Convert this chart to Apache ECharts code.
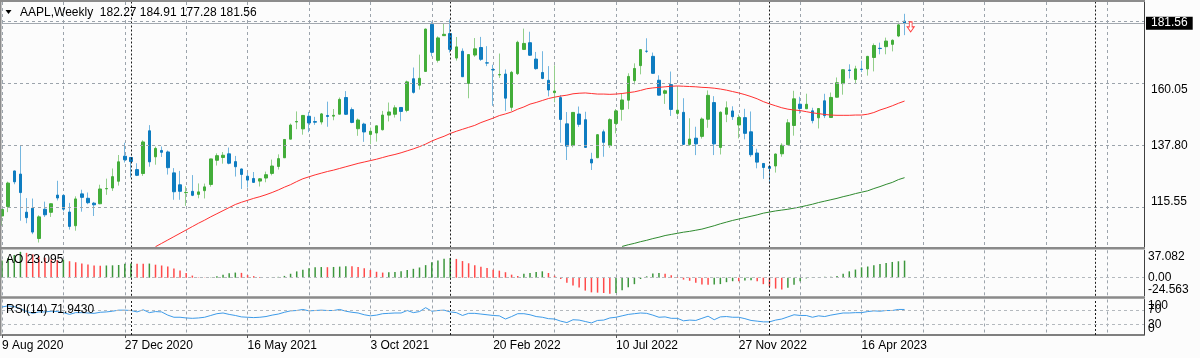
<!DOCTYPE html>
<html>
<head>
<meta charset="utf-8">
<script src="https://cdn.jsdelivr.net/npm/echarts@6/dist/echarts.min.js"></script>
<style>
html,body{margin:0;padding:0;background:#fcfcfc;}
#c{width:1200px;height:358px;}
</style>
</head>
<body>
<div id="c"></div>
<script>
// ---------------- DATA ----------------
const symbolName = 'AAPL,Weekly';
const firstWeek = [2020, 7, 9];   // 9 Aug 2020 (weekly bars, Sunday open)
const weekSlots = 187;            // bars + empty chart shift

const opens = [112.60,115.98,128.70,127.58,113.95,115.36,104.54,115.01,113.91,120.06,
119.96,114.01,109.11,120.50,118.92,117.18,116.97,122.31,122.60,125.02,
133.99,133.52,129.19,127.78,143.07,133.75,136.03,135.49,128.01,123.75,
120.93,121.41,120.33,121.65,123.87,132.52,133.51,134.83,132.04,129.41,
126.82,126.01,125.08,126.17,127.82,130.30,133.41,140.07,146.21,143.75,
148.27,146.36,146.20,148.54,148.31,149.00,154.97,150.63,143.80,145.47,
141.76,142.27,143.45,148.68,148.99,151.41,150.37,161.68,159.37,164.29,
181.12,168.28,177.09,177.83,169.08,171.52,160.02,170.16,172.86,167.37,
164.98,163.06,163.36,151.45,163.51,172.17,174.57,168.71,163.92,161.12,
156.71,154.93,145.55,137.79,149.07,147.03,132.87,133.42,142.70,137.77,
145.67,150.74,154.01,161.01,166.37,171.52,169.69,161.15,156.47,159.59,
149.31,149.66,138.21,140.42,141.07,147.19,153.16,137.11,148.97,150.16,
145.14,147.77,142.70,135.11,131.38,130.28,130.47,134.83,138.12,144.96,
152.58,150.95,150.20,147.71,153.79,147.81,155.07,159.94,164.80,161.42,
165.09,165.19,169.28,172.57,173.16,173.98,176.96,182.27];

const highs = [115.00,124.87,128.79,137.98,118.99,118.83,112.86,117.72,117.00,125.18,
120.42,117.28,119.62,121.99,120.99,117.62,123.78,125.95,129.58,134.41,
138.79,133.61,131.45,139.67,145.09,137.42,137.46,136.01,129.72,128.72,
123.21,127.22,124.24,124.18,133.04,135.00,135.47,137.07,134.07,129.54,
128.00,128.32,126.16,128.46,132.76,134.64,140.00,145.65,150.00,148.72,
149.83,148.05,149.44,153.49,150.86,154.98,157.26,151.42,147.47,145.96,
144.22,144.90,150.18,153.17,152.20,151.57,161.02,165.70,170.30,179.63,
182.13,176.85,181.33,182.88,176.62,172.54,170.35,176.24,176.65,173.34,
166.69,170.70,165.02,164.48,175.28,179.61,178.49,171.27,171.53,166.20,
166.48,155.83,149.77,149.68,151.74,149.87,135.20,141.91,143.49,147.55,
150.86,156.28,163.63,167.19,172.17,176.15,171.05,162.90,157.82,164.26,
158.74,154.72,147.54,144.52,147.85,157.50,155.45,150.01,153.59,151.83,
148.88,150.92,149.97,136.63,131.41,130.90,134.92,138.61,147.23,157.38,
155.23,156.33,151.30,151.11,156.30,156.74,162.14,165.00,166.84,166.32,
168.16,169.85,174.30,174.59,176.39,175.77,181.78,184.91];

const lows = [109.11,113.96,123.94,110.89,110.00,106.09,103.10,112.22,112.25,118.15,
114.28,107.72,107.32,114.13,116.81,112.59,116.81,120.15,121.54,123.45,
131.72,126.38,126.86,126.94,130.21,130.93,133.69,127.41,118.39,118.39,
116.21,119.68,118.92,118.86,123.07,130.63,131.30,131.07,126.70,122.25,
122.77,124.50,123.13,124.66,127.13,129.21,133.35,140.07,143.63,141.67,
142.54,145.18,145.30,144.50,146.83,149.00,148.70,145.76,141.27,139.11,
138.27,139.20,143.16,146.41,147.80,146.48,149.70,156.36,157.80,164.28,
169.69,167.46,177.07,171.03,168.17,162.30,154.70,169.51,168.04,166.19,
152.00,161.97,150.10,150.10,163.01,171.94,169.82,164.91,161.50,155.38,
153.27,138.80,132.61,137.14,144.46,137.06,129.04,133.32,133.77,136.93,
142.12,146.70,150.80,159.63,163.25,170.91,163.56,155.70,152.68,148.37,
148.56,138.00,137.69,134.37,140.27,144.13,134.38,134.59,146.15,146.93,
140.35,140.00,133.73,129.64,125.87,124.17,128.12,133.77,137.90,141.32,
149.22,150.85,145.72,143.90,147.61,147.70,155.02,155.98,161.80,159.78,
164.03,162.80,164.31,170.42,170.42,171.47,176.57,177.28];

const closes = [114.91,124.37,124.81,120.96,112.00,106.84,112.28,113.02,116.97,119.02,
115.04,108.86,118.69,119.26,117.34,116.59,122.25,122.41,126.66,131.97,
132.69,132.05,127.14,139.07,131.96,136.76,135.37,129.87,121.26,121.42,
121.03,119.99,121.21,123.00,133.00,134.16,134.32,131.46,130.21,127.45,
125.43,124.61,125.89,127.35,130.46,133.11,139.96,145.11,146.39,148.56,
145.86,146.14,149.10,148.19,148.60,154.30,148.97,146.06,146.92,142.65,
142.90,144.84,148.69,149.80,151.28,149.99,160.55,156.81,161.84,179.45,
171.14,176.28,177.57,172.17,173.07,162.41,170.33,172.39,168.64,167.30,
164.85,163.17,154.73,163.98,174.72,174.31,170.09,165.29,161.79,157.65,
157.28,147.11,137.59,149.64,145.38,137.13,131.56,141.66,138.93,147.04,
150.17,154.09,162.51,165.35,172.10,171.50,163.62,155.81,157.37,150.70,
150.43,138.20,140.09,138.38,147.27,155.74,138.38,149.70,151.29,148.11,
147.81,142.16,134.51,131.86,129.93,129.62,134.76,137.87,145.93,154.50,
151.01,152.55,146.71,151.03,148.50,155.00,160.25,164.90,164.66,165.21,
165.02,169.68,173.57,172.48,175.16,175.43,180.95,181.56];

// red moving average (first value at bar 25)
const maRedStart = 25;
const maRed = [101.6,102.8,104.0,105.2,106.4,107.6,108.8,110.0,111.1,112.3,
113.4,114.5,115.6,116.7,117.5,118.2,118.9,119.5,120.2,121.0,
121.9,122.9,123.8,124.9,125.9,126.6,127.3,127.9,128.5,129.0,
129.6,130.2,130.8,131.4,131.9,132.4,132.9,133.5,134.1,134.6,
135.2,135.9,136.6,137.4,138.3,139.4,140.3,141.1,142.1,142.9,
143.6,144.3,145.0,146.0,146.8,147.6,148.5,149.1,149.8,150.8,
151.6,152.6,153.2,153.9,154.6,155.1,155.5,155.8,156.3,156.5,
156.6,156.4,156.2,156.2,156.1,156.2,156.4,156.7,157.0,157.5,
158.1,158.4,158.6,158.8,159.0,159.1,159.0,158.9,158.8,158.6,
158.5,158.3,158.0,157.6,157.1,156.6,156.0,155.3,154.5,153.5,
152.7,152.0,151.3,150.8,150.5,150.3,149.9,149.5,149.2,148.9,
148.7,148.6,148.6,148.6,148.7,148.7,149.0,149.6,150.5,151.2,
152.0,152.9,153.7];

// green moving average (first value at bar 101)
const maGreenStart = 101;
const maGreen = [101.7,102.3,102.8,103.4,103.9,104.5,105.0,105.6,106.0,106.4,
106.8,107.1,107.5,107.9,108.5,109.1,109.8,110.4,111.0,111.5,
112.0,112.5,113.0,113.6,114.0,114.4,114.7,115.0,115.4,115.8,
116.3,116.8,117.4,117.9,118.4,118.9,119.5,120.0,120.6,121.1,
121.6,122.4,123.1,123.9,124.6,125.6,126.3];

// Awesome Oscillator
const ao = [23.1,26.5,30.8,35.0,33.6,31.5,29.4,27.0,24.6,24.0,
24.5,22.3,20.9,19.2,17.8,16.6,16.3,16.5,16.7,17.2,
19.0,19.3,19.0,18.8,19.1,17.6,16.5,15.3,12.4,9.6,
6.3,2.8,0.5,-0.3,0.2,1.9,3.9,5.9,6.9,6.5,
3.4,2.1,0.8,-0.1,0.3,1.1,2.4,5.3,8.5,10.7,
12.9,14.1,14.4,14.2,14.5,15.0,15.6,15.4,14.3,12.8,
10.5,8.0,6.9,7.2,7.8,8.6,10.3,12.0,13.8,17.0,
20.8,23.4,25.6,26.7,25.4,22.5,19.5,16.8,14.7,13.0,
10.8,9.5,7.4,4.1,2.3,5.4,6.3,7.7,8.6,6.3,
2.6,-1.8,-6.9,-10.6,-13.4,-17.5,-19.9,-20.3,-20.8,-21.7,
-20.8,-17.0,-13.0,-8.8,-1.8,1.8,5.6,6.4,5.2,3.4,
0.9,-2.6,-4.2,-6.9,-9.4,-9.5,-9.2,-8.7,-6.1,-4.8,
-5.0,-3.8,-3.4,-4.9,-8.8,-12.0,-14.8,-16.0,-13.8,-9.5,
-4.8,-1.0,0.6,0.9,1.2,1.4,2.2,5.4,8.6,11.0,
14.0,15.1,16.9,18.5,19.9,21.3,22.2,23.095];

// RSI(14)
const rsi = [79,82,80,74,66,61,65,65,67,66,
63,58,63,63,62,61,64,65,67,70,
70,69,65,71,63,66,65,56,50,50,
48,47,48,50,55,60,62,58,55,51,
50,49,50,52,56,59,64,68,69,72,
68,69,70,69,69,72,67,64,62,57,
54,56,60,61,62,62,69,63,66,77,
67,69,70,65,63,55,61,61,59,57,
55,54,45,52,60,60,57,52,50,46,
45,39,35,43,42,38,34,41,42,48,
50,54,58,60,62,61,56,50,51,47,
47,40,42,41,47,53,43,51,52,50,
50,46,41,39,37,37,42,45,51,57,
55,55,50,54,52,56,59,62,62,63,
63,66,68,67,69,69,72,71.943];

// axis texts / levels
const priceLabels = [115.55, 137.80, 160.05];
const priceGrid = [115.55, 137.80, 160.05, 182.30];
const priceRange = [101.32, 189.13];
const aoRange = [-24.563, 37.082];
const aoLabels = [-24.563, 0, 37.082];
const rsiRange = [0, 100];
const rsiLevels = [30, 70];
const yearStarts = ['3 Jan 2021', '2 Jan 2022', '1 Jan 2023', '7 Jan 2024'];
const arrowMark = {bar: 148, price: 180.2};

// ---------------- BUILD ----------------
const MONTHS = ['Jan','Feb','Mar','Apr','May','Jun','Jul','Aug','Sep','Oct','Nov','Dec'];
const categories = [];
const t0 = Date.UTC(firstWeek[0], firstWeek[1], firstWeek[2]);
for (let k = 0; k < weekSlots; k++) {
  const d = new Date(t0 + k * 7 * 86400000);
  categories.push(d.getUTCDate() + ' ' + MONTHS[d.getUTCMonth()] + ' ' + d.getUTCFullYear());
}
const n = opens.length;
const last = n - 1;

const wickData = opens.map((o, i) => [o, closes[i], lows[i], highs[i]]);
const bodyData = opens.map((o, i) => [o, closes[i], Math.min(o, closes[i]), Math.max(o, closes[i])]);
const redData = categories.map((c, i) => (i >= maRedStart && i - maRedStart < maRed.length) ? maRed[i - maRedStart] : null);
const greenData = categories.map((c, i) => (i >= maGreenStart && i - maGreenStart < maGreen.length) ? maGreen[i - maGreenStart] : null);
const aoData = ao.map((v, i) => ({
  value: v,
  itemStyle: {color: (i === 0 || v > ao[i - 1]) ? '#3c963c' : '#ff4a4a'}
}));

const FONT = '"Liberation Sans", Arial, sans-serif';
const UP = '#43ad3a', DN = '#0e7cc0', UPW = '#93cf8b', DNW = '#74b6df';
const gridDash = {color: '#9ca4ac', type: [3, 3], width: 1};
const levelDash = {color: '#b4b9be', type: [3, 3], width: 1};
const sepDash = {color: '#1c1c1c', type: [2, 2], width: 1};
const axisText = {color: '#000', fontSize: 12, fontFamily: FONT};

const labelFn = (i) => i % 20 === 0 && i < n;
function xAxisFor(gi, bottom) {
  return {
    type: 'category', gridIndex: gi, data: categories, boundaryGap: false,
    axisLine: {show: bottom, lineStyle: {color: '#555', width: 1.5}},
    axisTick: {show: bottom, interval: labelFn, length: 3, lineStyle: {color: '#555'}},
    axisLabel: Object.assign({show: bottom, interval: labelFn, align: 'left', margin: 5, hideOverlap: false}, axisText),
    splitLine: {show: true, interval: (i) => i % 10 === 0, lineStyle: gridDash},
    axisPointer: {show: false}
  };
}
function yAxisFor(gi, range, labels, fmt, margin) {
  return {
    type: 'value', gridIndex: gi, position: 'right', min: range[0], max: range[1],
    axisLine: {show: true, lineStyle: {color: '#404040', width: 1}},
    axisTick: {show: false}, splitLine: {show: false},
    axisLabel: Object.assign({customValues: labels, formatter: fmt, margin: margin,
      verticalAlignMinLabel: 'bottom', verticalAlignMaxLabel: 'top',
      showMinLabel: true, showMaxLabel: true, hideOverlap: false}, axisText)
  };
}
const sepLines = yearStarts.map(c => ({xAxis: c, lineStyle: sepDash, label: {show: false}}));

const option = {
  animation: false,
  backgroundColor: '#fcfcfc',
  grid: [
    {left: 2, right: 56, top: 2, height: 245.5, containLabel: false, outerBoundsMode: 'none'},
    {left: 2, right: 56, top: 250.3, height: 45.5, containLabel: false, outerBoundsMode: 'none'},
    {left: 2, right: 56, top: 299.5, height: 35.5, containLabel: false, outerBoundsMode: 'none'}
  ],
  xAxis: [xAxisFor(0, false), xAxisFor(1, false), xAxisFor(2, true)],
  yAxis: [
    yAxisFor(0, priceRange, priceLabels, v => v.toFixed(2), 7),
    yAxisFor(1, aoRange, aoLabels, v => (v === 0 ? '0.00' : v.toFixed(3)), 4),
    yAxisFor(2, rsiRange, rsiRange, v => String(v), 4)
  ],
  series: [
    {
      type: 'candlestick', xAxisIndex: 0, yAxisIndex: 0, data: wickData, barWidth: 1,
      itemStyle: {color: UPW, color0: DNW, borderColor: UPW, borderColor0: DNW, borderWidth: 1},
      markLine: {
        silent: true, symbol: ['none', 'none'], animation: false,
        label: {show: false},
        data: priceGrid.map(v => ({yAxis: v, lineStyle: gridDash, label: {show: false}}))
          .concat(sepLines)
          .concat([{
            yAxis: closes[last],
            lineStyle: {color: '#a3a9b0', type: 'solid', width: 1},
            label: {show: true, position: 'end', distance: 2, formatter: closes[last].toFixed(2),
              color: '#fff', backgroundColor: '#000', padding: [1, 5, 0, 5],
              fontSize: 12, fontFamily: FONT}
          }])
      }
    },
    {
      type: 'candlestick', xAxisIndex: 0, yAxisIndex: 0, data: bodyData, barWidth: 3,
      itemStyle: {color: UP, color0: DN, borderColor: UP, borderColor0: DN, borderWidth: 1},
      markPoint: {
        silent: true, animation: false,
        data: [{
          coord: [categories[arrowMark.bar], arrowMark.price],
          symbol: 'path://M3,0 L7,0 L7,6 L10,6 L5,12 L0,6 L3,6 Z',
          symbolSize: [7, 10],
          itemStyle: {color: '#ffffff', borderColor: '#ff4040', borderWidth: 1},
          label: {show: false}
        }]
      }
    },
    {
      type: 'line', xAxisIndex: 0, yAxisIndex: 0, data: redData, symbol: 'none',
      lineStyle: {color: '#ff3030', width: 1}, connectNulls: false
    },
    {
      type: 'line', xAxisIndex: 0, yAxisIndex: 0, data: greenData, symbol: 'none',
      lineStyle: {color: '#2f8a2f', width: 1}, connectNulls: false
    },
    {
      type: 'bar', xAxisIndex: 1, yAxisIndex: 1, data: aoData, barWidth: 1.5,
      markLine: {
        silent: true, symbol: ['none', 'none'], animation: false, label: {show: false},
        data: [{yAxis: 0, lineStyle: levelDash}].concat(sepLines)
      }
    },
    {
      type: 'line', xAxisIndex: 2, yAxisIndex: 2, data: rsi, symbol: 'none',
      lineStyle: {color: '#3d9be9', width: 1},
      markLine: {
        silent: true, symbol: ['none', 'none'], animation: false, label: {show: false},
        data: rsiLevels.map(v => ({
          yAxis: v, lineStyle: levelDash,
          label: Object.assign({show: true, position: 'end', distance: 4, formatter: String(v)}, axisText)
        })).concat(sepLines)
      }
    }
  ],
  graphic: [
    {type: 'rect', z: 100, shape: {x: 0, y: 0, width: 1145, height: 2}, style: {fill: '#8c8c8c'}},
    {type: 'rect', z: 100, shape: {x: 0, y: 0, width: 1.5, height: 336}, style: {fill: '#8c8c8c'}},
    {type: 'rect', z: 100, shape: {x: 0, y: 247, width: 1145, height: 2.6}, style: {fill: '#8a8a8a'}},
    {type: 'rect', z: 100, shape: {x: 0, y: 296.2, width: 1145, height: 2.6}, style: {fill: '#8a8a8a'}},
    {type: 'polygon', z: 100, shape: {points: [[5.5, 10], [11.5, 10], [8.5, 14]]}, style: {fill: '#000'}},
    {type: 'text', z: 100, x: 20, y: 12.5, style: {
      text: symbolName + '  ' + [opens[last], highs[last], lows[last], closes[last]].map(v => v.toFixed(2)).join(' '),
      font: '12px ' + FONT, fill: '#000', verticalAlign: 'middle'}},
    {type: 'text', z: 100, x: 6, y: 259.7, style: {
      text: 'AO ' + ao[last].toFixed(3), font: '12px ' + FONT, fill: '#000', verticalAlign: 'middle'}},
    {type: 'text', z: 100, x: 6, y: 309.3, style: {
      text: 'RSI(14) ' + rsi[last].toFixed(4), font: '12px ' + FONT, fill: '#000', verticalAlign: 'middle'}}
  ]
};

const chart = echarts.init(document.getElementById('c'), null, {renderer: 'canvas'});
chart.setOption(option);
</script>
</body>
</html>
